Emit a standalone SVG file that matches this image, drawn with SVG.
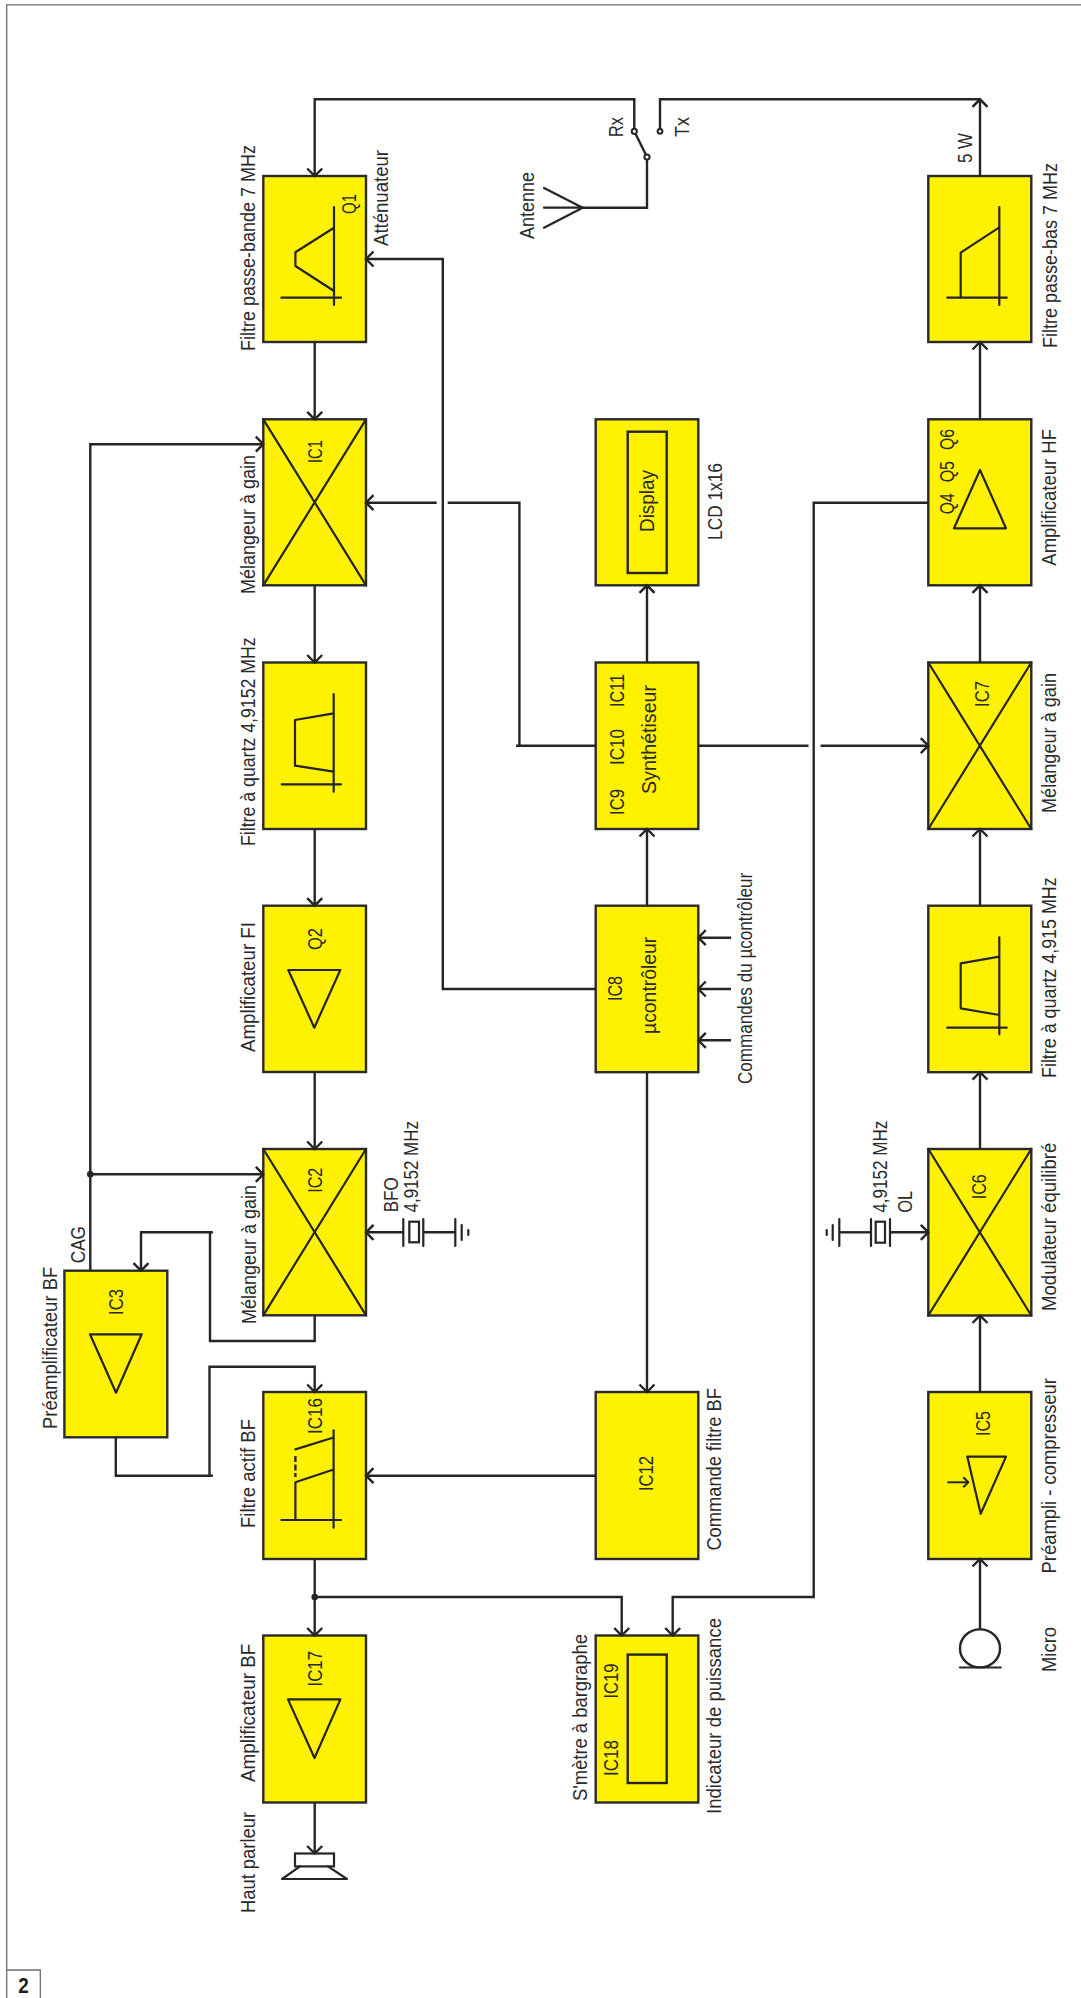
<svg xmlns="http://www.w3.org/2000/svg" width="1081" height="1998" viewBox="0 0 1081 1998">
<style>
.box{fill:#fff200;stroke:#2b2a2b;stroke-width:2.4}
.sym{fill:none;stroke:#262425;stroke-width:2.2;stroke-linejoin:round;stroke-linecap:round}
.wire{fill:none;stroke:#262425;stroke-width:2.4;stroke-linejoin:miter}
.arr{marker-end:url(#head)}
.t{font-family:"Liberation Sans",Arial,sans-serif;font-size:20px;fill:#2b2a2b}
.frame{fill:none;stroke:#6e6e6e;stroke-width:1.3}
.dot{fill:#262425}
.node{fill:#fff;stroke:#262425;stroke-width:2}
</style>
<defs>
<marker id="head" markerUnits="userSpaceOnUse" viewBox="-10 -10 20 20" markerWidth="20" markerHeight="20" refX="0" refY="0" orient="auto" overflow="visible">
<path d="M-7.5,-7.5 L0,0 L-7.5,7.5" fill="none" stroke="#262425" stroke-width="2.4"/>
</marker>
<marker id="small" markerUnits="userSpaceOnUse" viewBox="-10 -10 20 20" markerWidth="20" markerHeight="20" refX="0" refY="0" orient="auto" overflow="visible">
<path d="M-5,-5 L0,0 L-5,5" fill="none" stroke="#262425" stroke-width="2"/>
</marker>
</defs>
<rect width="1081" height="1998" fill="#fff"/>
<g id="page">
<path class="frame" d="M1081 4.8 H6.7 V1998"/>
<path class="frame" d="M6.7 1970 H40.3 V1998"/>
<text transform="translate(18.3,1993)" style="font-family:'Liberation Sans',sans-serif;font-size:22px;font-weight:700;fill:#231f20" textLength="10.5" lengthAdjust="spacingAndGlyphs">2</text>
</g>

<g id="q1-filter">
<rect class="box" x="263.3" y="176" width="102.7" height="166"/>
<path class="sym" d="M334 207V305M281.4 297.7H341M334 227.7L295.4 252.3V266L334 291"/>
<text class="t" transform="translate(355.5,214) rotate(-90)" textLength="20" lengthAdjust="spacingAndGlyphs">Q1</text>
<text class="t" transform="translate(255,351) rotate(-90)" textLength="206" lengthAdjust="spacingAndGlyphs">Filtre passe-bande 7 MHz</text>
<text class="t" transform="translate(388,246) rotate(-90)" textLength="96" lengthAdjust="spacingAndGlyphs">Atténuateur</text>
</g>
<g id="ic1-mixer">
<rect class="box" x="263.3" y="419.3" width="102.7" height="166"/>
<path class="sym" d="M263.3 419.3L366 585.3M366 419.3L263.3 585.3"/>
<text class="t" transform="translate(321.5,463) rotate(-90)" textLength="23" lengthAdjust="spacingAndGlyphs">IC1</text>
<text class="t" transform="translate(255,594) rotate(-90)" textLength="139" lengthAdjust="spacingAndGlyphs">Mélangeur à gain</text>
</g>
<g id="rx-quartz">
<rect class="box" x="263.3" y="662.5" width="102.7" height="166.5"/>
<path class="sym" d="M333.7 694V791.7M281.7 784.3H341M333.7 713.3L295 720V765.7L333.7 771.7"/>
<text class="t" transform="translate(255,846) rotate(-90)" textLength="208.7" lengthAdjust="spacingAndGlyphs">Filtre à quartz 4,9152 MHz</text>
</g>
<g id="q2-amp">
<rect class="box" x="263.3" y="905.7" width="102.7" height="166.3"/>
<path class="sym" d="M288.3 970H340.3L314.3 1027.7Z"/>
<text class="t" transform="translate(321.7,950) rotate(-90)" textLength="22" lengthAdjust="spacingAndGlyphs">Q2</text>
<text class="t" transform="translate(255,1052) rotate(-90)" textLength="130" lengthAdjust="spacingAndGlyphs">Amplificateur FI</text>
</g>
<g id="ic2-mixer">
<rect class="box" x="263.3" y="1149" width="102.7" height="166.3"/>
<path class="sym" d="M263.3 1149L366 1315.3M366 1149L263.3 1315.3"/>
<text class="t" transform="translate(321.7,1192.7) rotate(-90)" textLength="25" lengthAdjust="spacingAndGlyphs">IC2</text>
<text class="t" transform="translate(255.7,1324) rotate(-90)" textLength="139" lengthAdjust="spacingAndGlyphs">Mélangeur à gain</text>
</g>
<g id="bfo">
<path class="sym" d="M403.3 1219V1246M423.3 1219V1246M455.3 1219V1246M461.7 1225V1240M468.3 1230V1235"/>
<rect x="409.3" y="1221.7" width="9.7" height="20.6" fill="none" stroke="#262425" stroke-width="2.2"/>
<text class="t" transform="translate(398.3,1212.3) rotate(-90)" textLength="35" lengthAdjust="spacingAndGlyphs">BFO</text>
<text class="t" transform="translate(418.3,1212.5) rotate(-90)" textLength="91.5" lengthAdjust="spacingAndGlyphs">4,9152 MHz</text>
</g>
<g id="ic3-preamp">
<rect class="box" x="64.4" y="1270.7" width="102.9" height="166.6"/>
<path class="sym" d="M90 1334.3H141.7L116 1392.7Z"/>
<text class="t" transform="translate(123.3,1315) rotate(-90)" textLength="26" lengthAdjust="spacingAndGlyphs">IC3</text>
<text class="t" transform="translate(56.7,1429) rotate(-90)" textLength="162.3" lengthAdjust="spacingAndGlyphs">Préamplificateur BF</text>
<text class="t" transform="translate(85,1263.3) rotate(-90)" textLength="37.3" lengthAdjust="spacingAndGlyphs">CAG</text>
</g>
<g id="ic16-filter">
<rect class="box" x="263.3" y="1392" width="102.7" height="167"/>
<path class="sym" d="M333.6 1430.3V1527.7M281.4 1520H341M295.4 1520V1482.3L333.6 1469.5M295.4 1449.4L333.6 1437.5"/>
<path d="M295.4 1456V1477" fill="none" stroke="#262425" stroke-width="2.4" stroke-dasharray="6 2.5"/>
<text class="t" transform="translate(321.7,1434) rotate(-90)" textLength="36" lengthAdjust="spacingAndGlyphs">IC16</text>
<text class="t" transform="translate(255,1528) rotate(-90)" textLength="109" lengthAdjust="spacingAndGlyphs">Filtre actif BF</text>
</g>
<g id="ic17-amp">
<rect class="box" x="263.3" y="1635.5" width="102.7" height="167"/>
<path class="sym" d="M288 1699.4H340.4L314.5 1758Z"/>
<text class="t" transform="translate(321.7,1686.5) rotate(-90)" textLength="35.5" lengthAdjust="spacingAndGlyphs">IC17</text>
<text class="t" transform="translate(255,1782) rotate(-90)" textLength="138.4" lengthAdjust="spacingAndGlyphs">Amplificateur BF</text>
</g>
<g id="speaker">
<rect x="295" y="1853.5" width="39" height="12.9" fill="none" stroke="#262425" stroke-width="2.2"/>
<path class="sym" d="M300 1866.4L282 1879H347L328 1866.4"/>
<text class="t" transform="translate(255,1913) rotate(-90)" textLength="101" lengthAdjust="spacingAndGlyphs">Haut parleur</text>
</g>

<g id="antenna">
<path class="sym" d="M582.7 207.7H544M582.7 207.7L544 188M582.7 207.7L544 227.7"/>
<text class="t" transform="translate(534,239) rotate(-90)" textLength="67" lengthAdjust="spacingAndGlyphs">Antenne</text>
</g>
<g id="lcd">
<rect class="box" x="595.7" y="419.3" width="102.6" height="166"/>
<rect x="627.7" y="431.7" width="39" height="141.3" fill="none" stroke="#262425" stroke-width="2.4"/>
<text class="t" transform="translate(654,532) rotate(-90)" textLength="62" lengthAdjust="spacingAndGlyphs">Display</text>
<text class="t" transform="translate(721.7,540) rotate(-90)" textLength="77" lengthAdjust="spacingAndGlyphs">LCD 1x16</text>
</g>
<g id="synth">
<rect class="box" x="595.7" y="662.5" width="102.6" height="166.5"/>
<text class="t" transform="translate(623.6,815) rotate(-90)" textLength="26" lengthAdjust="spacingAndGlyphs">IC9</text>
<text class="t" transform="translate(623.6,765) rotate(-90)" textLength="36" lengthAdjust="spacingAndGlyphs">IC10</text>
<text class="t" transform="translate(623.6,707) rotate(-90)" textLength="33" lengthAdjust="spacingAndGlyphs">IC11</text>
<text class="t" transform="translate(656,794) rotate(-90)" textLength="109" lengthAdjust="spacingAndGlyphs">Synthétiseur</text>
</g>
<g id="ic8-mcu">
<rect class="box" x="595.7" y="905.7" width="102.6" height="166.5"/>
<text class="t" transform="translate(622,1001) rotate(-90)" textLength="25" lengthAdjust="spacingAndGlyphs">IC8</text>
<text class="t" transform="translate(656,1034) rotate(-90)" textLength="97.3" lengthAdjust="spacingAndGlyphs">µcontrôleur</text>
<text class="t" transform="translate(751.7,1084) rotate(-90)" textLength="211.3" lengthAdjust="spacingAndGlyphs">Commandes du µcontrôleur</text>
</g>
<g id="ic12">
<rect class="box" x="595.7" y="1392" width="102.6" height="167"/>
<text class="t" transform="translate(653,1491) rotate(-90)" textLength="35" lengthAdjust="spacingAndGlyphs">IC12</text>
<text class="t" transform="translate(721,1550.6) rotate(-90)" textLength="162.6" lengthAdjust="spacingAndGlyphs">Commande filtre BF</text>
</g>
<g id="indicator">
<rect class="box" x="595.7" y="1635.5" width="102.6" height="167"/>
<rect x="627.7" y="1654.6" width="39" height="128.4" fill="none" stroke="#262425" stroke-width="2.4"/>
<text class="t" transform="translate(618,1776) rotate(-90)" textLength="36" lengthAdjust="spacingAndGlyphs">IC18</text>
<text class="t" transform="translate(618,1698.5) rotate(-90)" textLength="35" lengthAdjust="spacingAndGlyphs">IC19</text>
<text class="t" transform="translate(587,1801) rotate(-90)" textLength="167" lengthAdjust="spacingAndGlyphs">S'mètre à bargraphe</text>
<text class="t" transform="translate(721,1814) rotate(-90)" textLength="196" lengthAdjust="spacingAndGlyphs">Indicateur de puissance</text>
</g>

<g id="lowpass">
<rect class="box" x="928.3" y="176" width="103" height="166"/>
<path class="sym" d="M999.3 207V305M947.3 297.7H1006.7M999.3 227.3L960.7 252.7V297.7"/>
<text class="t" transform="translate(1056.5,348) rotate(-90)" textLength="185" lengthAdjust="spacingAndGlyphs">Filtre passe-bas 7 MHz</text>
<text class="t" transform="translate(972,163) rotate(-90)" textLength="30" lengthAdjust="spacingAndGlyphs">5 W</text>
</g>
<g id="hf-amp">
<rect class="box" x="928.3" y="419.3" width="103" height="166"/>
<path class="sym" d="M980 470L954 528.3H1006Z"/>
<text class="t" transform="translate(954,514.3) rotate(-90)" textLength="21" lengthAdjust="spacingAndGlyphs">Q4</text>
<text class="t" transform="translate(954,482.3) rotate(-90)" textLength="21.3" lengthAdjust="spacingAndGlyphs">Q5</text>
<text class="t" transform="translate(954,450) rotate(-90)" textLength="21" lengthAdjust="spacingAndGlyphs">Q6</text>
<text class="t" transform="translate(1056,565.7) rotate(-90)" textLength="136.7" lengthAdjust="spacingAndGlyphs">Amplificateur HF</text>
</g>
<g id="ic7-mixer">
<rect class="box" x="928.3" y="662.5" width="103" height="166.5"/>
<path class="sym" d="M928.3 662.5L1031.3 829M1031.3 662.5L928.3 829"/>
<text class="t" transform="translate(989,707) rotate(-90)" textLength="26" lengthAdjust="spacingAndGlyphs">IC7</text>
<text class="t" transform="translate(1056,813) rotate(-90)" textLength="140" lengthAdjust="spacingAndGlyphs">Mélangeur à gain</text>
</g>
<g id="tx-quartz">
<rect class="box" x="928.3" y="905.7" width="103" height="166.5"/>
<path class="sym" d="M999.3 937.3V1034.3M947.3 1027.7H1006.7M999.3 956.7L960.7 963.3V1008.3L999.3 1015"/>
<text class="t" transform="translate(1056,1078) rotate(-90)" textLength="200.7" lengthAdjust="spacingAndGlyphs">Filtre à quartz 4,915 MHz</text>
</g>
<g id="ic6-modulator">
<rect class="box" x="928.3" y="1149" width="103" height="166.5"/>
<path class="sym" d="M928.3 1149L1031.3 1315.5M1031.3 1149L928.3 1315.5"/>
<text class="t" transform="translate(986,1199.3) rotate(-90)" textLength="25" lengthAdjust="spacingAndGlyphs">IC6</text>
<text class="t" transform="translate(1056,1311) rotate(-90)" textLength="168.3" lengthAdjust="spacingAndGlyphs">Modulateur équilibré</text>
</g>
<g id="ol">
<path class="sym" d="M890 1219V1246M871 1219V1246M839.3 1219V1246M832.7 1225V1240M826.7 1230V1235"/>
<rect x="875.7" y="1221.7" width="9.3" height="21" fill="none" stroke="#262425" stroke-width="2.2"/>
<text class="t" transform="translate(887.3,1212.7) rotate(-90)" textLength="92" lengthAdjust="spacingAndGlyphs">4,9152 MHz</text>
<text class="t" transform="translate(911.7,1212.7) rotate(-90)" textLength="22" lengthAdjust="spacingAndGlyphs">OL</text>
</g>
<g id="ic5-preamp">
<rect class="box" x="928.3" y="1392" width="103" height="167"/>
<path class="sym" d="M967.3 1456.6H1006L980.7 1513.8Z"/>
<path d="M947.3 1482.3H968.3" fill="none" stroke="#262425" stroke-width="2" marker-end="url(#small)"/>
<text class="t" transform="translate(990,1436) rotate(-90)" textLength="25" lengthAdjust="spacingAndGlyphs">IC5</text>
<text class="t" transform="translate(1056,1573.5) rotate(-90)" textLength="195.5" lengthAdjust="spacingAndGlyphs">Préampli - compresseur</text>
</g>
<g id="micro">
<ellipse cx="980" cy="1648.4" rx="20" ry="19" fill="none" stroke="#262425" stroke-width="2.4"/>
<path class="sym" d="M960 1667.5H1000.7"/>
<text class="t" transform="translate(1056,1672) rotate(-90)" textLength="45" lengthAdjust="spacingAndGlyphs">Micro</text>
</g>
<g id="switch">
<text class="t" transform="translate(622.7,137) rotate(-90)" textLength="20" lengthAdjust="spacingAndGlyphs">Rx</text>
<text class="t" transform="translate(689,137) rotate(-90)" textLength="20" lengthAdjust="spacingAndGlyphs">Tx</text>
</g>

<g id="connectors">
<path class="wire arr" d="M634.3 131.3V99.3H314.7V176"/>
<path class="wire" d="M660 131.3V99.3H980"/>
<path class="wire arr" d="M980 176V99.3"/>
<path class="wire" d="M634.3 131.3L647 157V207.7H582.7"/>
<path class="wire arr" d="M314.7 342V419.3"/>
<path class="wire arr" d="M314.7 585.3V662.5"/>
<path class="wire arr" d="M314.7 829V905.7"/>
<path class="wire arr" d="M314.7 1072V1149"/>
<path class="wire arr" d="M314.7 1559V1635.5"/>
<path class="wire arr" d="M314.7 1802.5V1853.5"/>
<path class="wire arr" d="M595.7 989H442.8V259H366"/>
<path class="wire" d="M595.7 745.7H516M519.4 745.7V502.7H447.7"/>
<path class="wire arr" d="M436.7 502.7H366"/>
<path class="wire arr" d="M90.3 1270.7V444.2H263.3"/>
<path class="wire arr" d="M90.3 1174.3H263.3"/>
<circle class="dot" cx="90.3" cy="1174.3" r="3.3"/>
<path class="wire arr" d="M314.7 1315.3V1341H210V1232.3H141V1270.7"/>
<path class="wire" d="M210 1232.3H213"/>
<path class="wire arr" d="M115.8 1437.3V1475.7H209.5V1366.7H314.7V1392"/>
<path class="wire" d="M209.5 1475.7H213"/>
<path class="wire arr" d="M403.3 1232.3H366"/>
<path class="wire" d="M423.3 1232.3H455.3"/>
<path class="wire arr" d="M647 1072.2V1392"/>
<path class="wire arr" d="M595.7 1475.7H366"/>
<circle class="dot" cx="314.7" cy="1597" r="3.3"/>
<path class="wire arr" d="M314.7 1597H621.7V1635.5"/>
<path class="wire arr" d="M928.3 502.7H813.7V1597H672.7V1635.5"/>
<path class="wire" d="M698.3 745.7H808.5"/>
<path class="wire arr" d="M820.6 745.7H928.3"/>
<path class="wire arr" d="M647 662.5V585.3"/>
<path class="wire arr" d="M647 905.7V829"/>
<path class="wire arr" d="M731 937.7H698.3"/>
<path class="wire arr" d="M731 989H698.3"/>
<path class="wire arr" d="M731 1040.3H698.3"/>
<path class="wire arr" d="M980 419.3V342"/>
<path class="wire arr" d="M980 662.5V585.3"/>
<path class="wire arr" d="M980 905.7V829"/>
<path class="wire arr" d="M980 1149V1072.2"/>
<path class="wire arr" d="M980 1392V1315.5"/>
<path class="wire arr" d="M980 1629V1559"/>
<path class="wire arr" d="M890 1232.3H928.3"/>
<path class="wire" d="M871 1232.3H839.3"/>
<circle class="node" cx="634.3" cy="131.3" r="2.6"/>
<circle class="node" cx="660" cy="131.3" r="2.4"/>
<circle class="node" cx="647" cy="157" r="2.6"/>
</g>
</svg>
